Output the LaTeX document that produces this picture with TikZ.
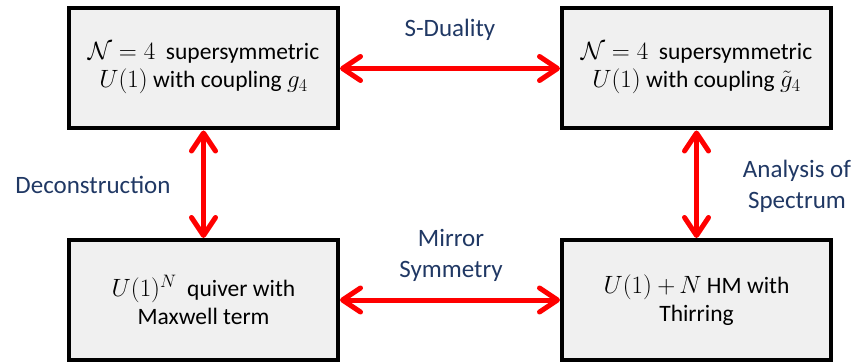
\documentclass[tikz,border=0pt]{standalone}
\usepackage{fix-cm}
\usepackage{fontspec}
\setmainfont{Carlito}
\DeclareMathSizes{23.5}{25}{18}{14}
\usetikzlibrary{arrows.meta}
\definecolor{navy}{RGB}{32,56,100}
\tikzset{theory/.style={draw=black, line width=4pt, fill=black!6, minimum width=269pt, minimum height=120pt, align=center, font=\fontsize{23.5}{28}\selectfont},
  relation/.style={red, line width=5pt, {Straight Barb[length=18pt,width=24pt,round]}-{Straight Barb[length=18pt,width=24pt,round]}},
  tag/.style={navy, align=center, font=\fontsize{25}{31}\selectfont}}

\begin{document}
\begin{tikzpicture}[x=1pt,y=-1pt]
  \useasboundingbox (0,0) rectangle (859,363);
  \node[theory] (gauge)    at (203.5, 68.5) {$\mathcal{N}=4$\ \ supersymmetric\\ $U(1)$ with coupling $g_4$};
  \node[theory] (dual)     at (696.5, 68.5) {$\mathcal{N}=4$\ \ supersymmetric\\ $U(1)$ with coupling $\tilde{g}_4$};
  \node[theory] (quiver)   at (203.5,300.0) {$U(1)^N$\ \ quiver with\\ Maxwell term};
  \node[theory] (thirring) at (696.5,300.0) {$U(1)$\ $+\,N$ HM with\\ Thirring};
  \draw[relation] (gauge) -- (dual);
  \draw[relation] (gauge) -- (quiver);
  \draw[relation] (dual) -- (thirring);
  \draw[relation] (quiver) -- (thirring);
  \node[tag] (sdual)  at (450, 30) {S-Duality};
  \node[tag] (decon)  at ( 93,185) {Deconstruction};
  \node[tag] (spec)   at (797,186) {Analysis of\\ Spectrum};
  \node[tag] (mirror) at (451,255) {Mirror\\ Symmetry};
\end{tikzpicture}
\end{document}
